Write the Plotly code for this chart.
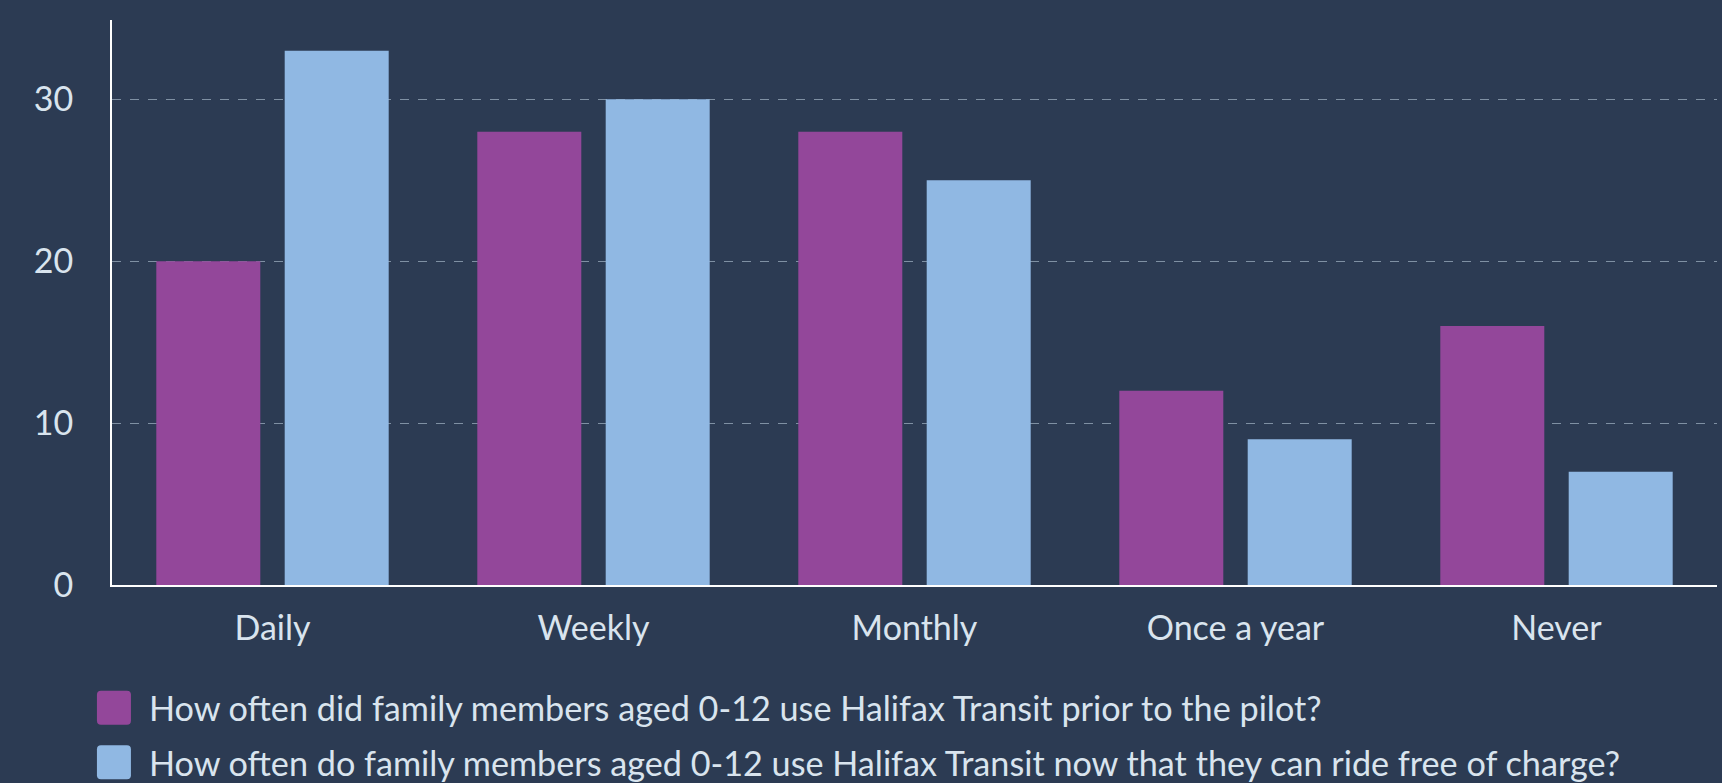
import plotly.graph_objects as go

categories = ["Daily", "Weekly", "Monthly", "Once a year", "Never"]
prior = [20, 28, 28, 12, 16]
now = [33, 30, 25, 9, 7]
name_prior = "How often did family members aged 0-12 use Halifax Transit prior to the pilot?"
name_now = "How often do family members aged 0-12 use Halifax Transit now that they can ride free of charge?"
tick_vals = [0, 10, 20, 30]

BG = "#2c3b53"
TEXT = "#d9e4ee"
fig = go.Figure()
fig.add_bar(x=categories, y=prior, name=name_prior, legendgroup="a", marker=dict(color="#93479a", line_width=0))
fig.add_bar(x=categories, y=now, name=name_now, legendgroup="b", marker=dict(color="#90b8e3", line_width=0))
fig.update_layout(
    width=1722, height=783, paper_bgcolor=BG, plot_bgcolor=BG,
    margin=dict(l=112, r=5, t=20, b=198, autoexpand=False),
    barmode="group", bargap=0.2, bargroupgap=0.19,
    font=dict(family="Lato", size=34, color=TEXT),
    showlegend=True,
    legend=dict(orientation="v", x=-0.0206, y=-0.1666, xanchor="left", yanchor="top",
                font=dict(size=34.2, color=TEXT), itemwidth=60, tracegroupgap=7),
)
fig.update_xaxes(showline=True, linecolor="#ffffff", linewidth=2, ticks="", showgrid=False,
                 tickfont=dict(size=34), zeroline=False, ticklabelstandoff=12)
fig.update_yaxes(range=[0, 34.9], tickvals=tick_vals, showline=True, linecolor="#ffffff", linewidth=2,
                 ticks="", gridcolor="#7f90a3", griddash="dash", gridwidth=1, zeroline=False,
                 tickfont=dict(size=34), ticklabelstandoff=30)

post = """
document.body.style.margin = '0';
document.body.style.background = '%s';
var bigPath = 'M-13,-17H13Q17,-17 17,-13V13Q17,17 13,17H-13Q-17,17 -17,13V-13Q-17,-17 -13,-17Z';
function bigSwatches() {
  document.querySelectorAll('.legend .traces path').forEach(function (p) {
    if (p.getAttribute('d') !== bigPath) { p.setAttribute('d', bigPath); }
  });
}
bigSwatches();
setInterval(bigSwatches, 30);
""" % BG
fig.write_html("out.html", post_script=post, config={"displayModeBar": False})
